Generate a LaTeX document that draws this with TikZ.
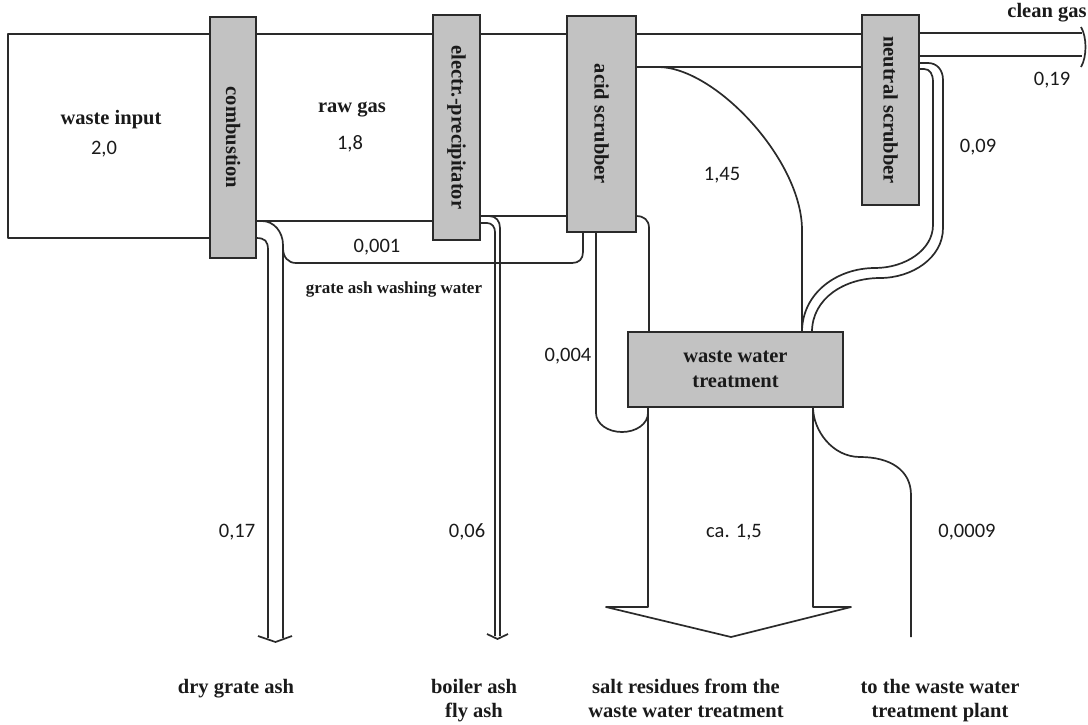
\documentclass[tikz,border=0pt]{standalone}
\usepackage{fontspec}
\usepackage{graphicx}
\setmainfont{Liberation Serif}
\newfontfamily\numfamily{Carlito}
\definecolor{linec}{HTML}{2A2A2A}
\definecolor{boxc}{HTML}{C2C2C2}
\definecolor{txtc}{HTML}{1A1A1A}
\newcommand\lblfont{\fontsize{20.5}{25}\selectfont\bfseries}
\newcommand\smallfont{\fontsize{17}{20}\selectfont\bfseries}
\newcommand\nfont{\fontsize{20.5}{24}\selectfont\numfamily}
\begin{document}
\begin{tikzpicture}[x=1pt,y=-1pt,
  unitbox/.style={draw=linec, line width=1.7pt, fill=boxc, inner sep=0pt, outer sep=0pt, text=txtc, font=\lblfont},
  flow/.style={draw=linec, line width=1.7pt, line join=round},
  lbl/.style={font=\lblfont, text=txtc, inner sep=0pt, anchor=base},
  slbl/.style={font=\smallfont, text=txtc, inner sep=0pt, anchor=base},
  num/.style={font=\nfont, text=txtc, inner sep=0pt, anchor=base}]
\useasboundingbox (0,0) rectangle (1088,724);

% process units
\node[unitbox, minimum width=46pt, minimum height=241pt] (comb) at (233,137.5) {\rotatebox{-90}{combustion}};
\node[unitbox, minimum width=47pt, minimum height=225pt] (ep) at (456.5,127.5) {\rotatebox{-90}{electr.-precipitator}};
\node[unitbox, minimum width=69pt, minimum height=216pt] (acid) at (601.5,124) {\rotatebox{-90}{acid scrubber}};
\node[unitbox, minimum width=57pt, minimum height=190pt] (neut) at (890.5,110) {\rotatebox{-90}{neutral scrubber}};
\node[unitbox, minimum width=215pt, minimum height=75pt, align=center] (wwt) at (735.5,369.5) {waste water\\treatment};

% waste input
\draw[flow] (comb.west |- 0,34) -- (8,34) -- (8,238) -- (comb.west |- 0,238);
% raw gas
\draw[flow] (comb.east |- 0,34) -- (ep.west |- 0,34);
\draw[flow] (comb.east |- 0,221) -- (ep.west |- 0,221);
% gas EP -> acid scrubber
\draw[flow] (ep.east |- 0,34) -- (acid.west |- 0,34);
\draw[flow] (ep.east |- 0,216) -- (acid.west |- 0,216);
% gas acid -> neutral scrubber
\draw[flow] (acid.east |- 0,34) -- (neut.west |- 0,34);
\draw[flow] (acid.east |- 0,67) -- (neut.west |- 0,67);
% clean gas
\draw[flow] (neut.east |- 0,33) -- (1082,33);
\draw[flow] (neut.east |- 0,56) -- (1082,56);
\draw[flow] (1081,27) .. controls (1087,37) and (1087,57) .. (1081,67);

% dry grate ash pipe
\draw[flow] (comb.east |- 0,238) .. controls (265,238) and (268,241) .. (268,250) -- (268,638);
\draw[flow] (comb.east |- 0,221) -- (262,221) .. controls (274,221) and (283,232) .. (283,245) -- (283,638);
\draw[flow] (258,636) -- (275.5,642) -- (292,636);
% grate ash washing water
\draw[flow] (283,248) .. controls (283,257) and (288,263) .. (296,263) -- (572,263)
  .. controls (579,263) and (583,259) .. (583,252) -- (583,0 |- acid.south);

% boiler ash / fly ash pipe
\draw[flow] (489,216) .. controls (496,216) and (500,221) .. (500,228) -- (500,636);
\draw[flow] (ep.east |- 0,223) -- (487,223) .. controls (492,223) and (495,227) .. (495,232) -- (495,636);
\draw[flow] (487,634) -- (497.5,639) -- (508,634);

% 0,004 flow around the treatment
\draw[flow] (596,0 |- acid.south) -- (596,413) .. controls (596,424) and (608,432) .. (622,432)
  .. controls (636,432) and (648,424) .. (648,413) -- (648,0 |- wwt.south);
% 1,45 flow to the waste water treatment
\draw[flow] (acid.east |- 0,216) .. controls (644,216) and (649,220) .. (649,228) -- (649,0 |- wwt.north);
\draw[flow] (658,67) .. controls (715,67) and (802,160) .. (802,230) -- (802,0 |- wwt.north);
% 0,09 flow from the neutral scrubber
\draw[flow] (neut.east |- 0,63) -- (928,63) .. controls (937,63) and (943,70) .. (943,80) -- (943,228)
  .. controls (943,258) and (912,278) .. (880,278) .. controls (845,278) and (812,298) .. (812,0 |- wwt.north);
\draw[flow] (neut.east |- 0,69) -- (924,69) .. controls (930,69) and (933,74) .. (933,82) -- (933,225)
  .. controls (933,250) and (905,268) .. (875,268) .. controls (837,268) and (802,293) .. (802,0 |- wwt.north);

% salt residues arrow
\draw[flow] (648,0 |- wwt.south) -- (648,607) -- (606,607) -- (731,637) -- (851,607) -- (813,607) -- (813,0 |- wwt.south);
% to the waste water treatment plant
\draw[flow] (813,0 |- wwt.south) .. controls (813,430) and (832,457) .. (860,457)
  .. controls (890,457) and (911,470) .. (911,495) -- (911,637);

% labels
\node[lbl] (t1) at (111,124) {waste input};
\node[num] (n1) at (104,154) {2,0};
\node[lbl] (t2) at (352,112) {raw gas};
\node[num] (n2) at (350,149) {1,8};
\node[num] (n3) at (377,252) {0,001};
\node[slbl] (t3) at (394,293) {grate ash washing water};
\node[num] (n4) at (722,180) {1,45};
\node[num] (n5) at (978,152) {0,09};
\node[num] (n6) at (1052,85) {0,19};
\node[lbl] (t4) at (1047,17) {clean gas};
\node[num] (n7) at (568,361) {0,004};
\node[num] (n8) at (237,537) {0,17};
\node[num] (n9) at (467,537) {0,06};
\node[num] (n10) at (734,537) {ca. 1,5};
\node[num] (n11) at (967,537) {0,0009};
\node[lbl] (t5) at (236,693) {dry grate ash};
\node[lbl] (t6) at (474,693) {boiler ash};
\node[lbl] (t7) at (474,717) {fly ash};
\node[lbl] (t8) at (686,693) {salt residues from the};
\node[lbl] (t9) at (686,717) {waste water treatment};
\node[lbl] (t10) at (940,693) {to the waste water};
\node[lbl] (t11) at (940,717) {treatment plant};
\end{tikzpicture}
\end{document}
